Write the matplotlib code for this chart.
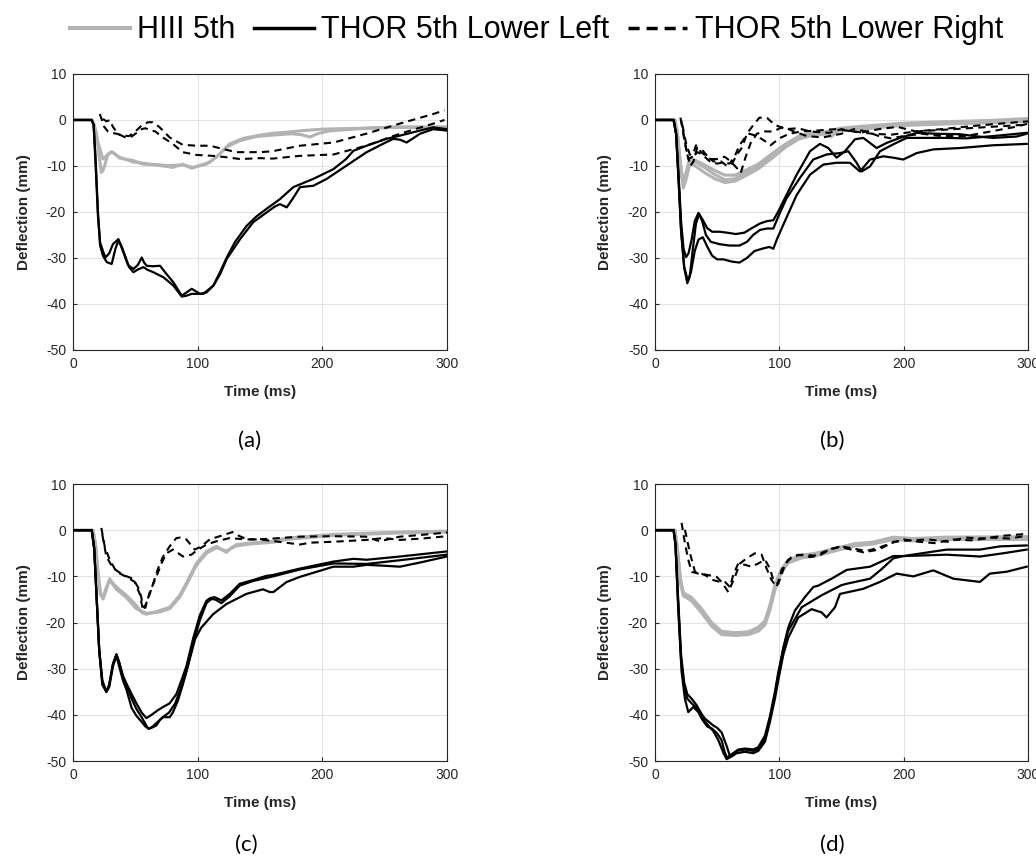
import numpy as np
import matplotlib
matplotlib.use("Agg")
import matplotlib.pyplot as plt
from matplotlib.lines import Line2D

plt.rcParams["font.family"] = ["Liberation Sans", "DejaVu Sans"]
plt.rcParams["axes.unicode_minus"] = False

# ---- data: (time ms, deflection mm) ----
# (a)
a_hiii1 = [(0, 0), (15, 0), (17, -1), (18.7, -2.7), (20.5, -7), (22.7, -11.4), (24, -11), (25.4, -9.9), (28, -7.4),
           (32, -7.0), (37.4, -8.3), (48, -8.8), (56, -9.6), (67, -9.8), (80, -10.3), (88, -9.6), (95, -10.5),
           (101.6, -9.9), (109.6, -9.2), (117.6, -7.4), (125.7, -5.2), (136.4, -4.0), (150, -3.3), (160, -2.9),
           (170, -2.7), (185, -2.3), (200, -2.0), (230, -1.8), (260, -1.5), (300, -1.5)]
a_hiii2 = [(0, 0), (15, 0), (17, -1.5), (20, -4.9), (24, -8.5), (26.7, -7.8), (30.7, -6.9), (37.4, -8.1), (48, -9.1),
           (61.5, -9.6), (75, -9.9), (88, -9.8), (96.3, -10.3), (107, -9.6), (115, -8.1), (123, -5.9), (133.7, -4.5),
           (147, -3.6), (160, -3.3), (175, -3.0), (183, -3.2), (190, -3.7), (196, -3.0), (205, -2.4), (230, -1.9),
           (260, -1.6), (300, -1.7)]
a_ll1 = [(0, 0), (15, 0), (16.5, -1), (18, -8), (20, -20), (21.7, -27.3), (24, -29.5), (27, -30.9), (31, -31.3),
         (34, -28), (36.4, -26.2), (39, -27.5), (41.7, -29.5), (45, -32), (48.4, -33.1), (52, -32.5), (56.4, -32.0),
         (60, -32.6), (64.4, -33.1), (72.5, -34.2), (80.5, -36.0), (87.2, -38.4), (91, -38.2), (95.2, -37.8),
         (104.5, -37.8), (112.6, -36.0), (118, -33.5), (123.3, -30.2), (134, -25.9), (144.6, -22.2), (155.3, -20.1),
         (162, -18.8), (166, -18.3), (171.4, -19.0), (176, -17.2), (182.1, -14.6), (192.8, -14.3), (203.5, -12.8),
         (219.5, -9.9), (235.5, -7.0), (250, -5.0), (257, -4.1), (262.3, -4.3), (267.6, -4.9), (278.3, -3.0),
         (289, -2.0), (299.7, -2.3)]
a_ll2 = [(0, 0), (15, 0), (16.5, -1), (18, -9), (20, -21), (21.7, -26.6), (24, -28.5), (26, -29.9), (29, -29),
         (32, -27), (36.4, -25.9), (40, -28.5), (44, -31.5), (48.4, -32.4), (52, -31.5), (55.1, -29.9), (57, -31),
         (59.1, -31.7), (64, -31.8), (69.8, -31.7), (75, -33.5), (80.5, -35.3), (87.2, -38.2), (91, -37.5),
         (95.2, -36.7), (101.9, -37.8), (107, -37.5), (112.6, -36.0), (118, -33), (123.3, -29.9), (130, -26.5),
         (139.3, -23.0), (147, -21), (155.3, -19.3), (166, -17.2), (176.7, -14.6), (192.8, -12.8), (208.8, -10.7),
         (219, -8.5), (224.9, -6.7), (235.5, -5.6), (251.6, -4.1), (262.3, -3.4), (278.3, -2.3), (289, -1.6),
         (299.7, -2.0)]
a_lr1 = [(21.5, 1.3), (25, -1.5), (28, -2.5), (31, -2.8), (35, -3.0), (40, -3.4), (45, -3.5), (50, -2.5), (55, -1.2),
         (60, -0.5), (64, -0.5), (69.5, -1.6), (77.5, -3.8), (88, -5.4), (99, -5.6), (110, -5.6), (120, -6.3),
         (131, -7.0), (150, -7.0), (160, -6.8), (182, -5.6), (209, -4.9), (235, -3.0), (262, -0.8), (289, 1.3),
         (298, 2.1)]
a_lr2 = [(24, 0.2), (27, -0.3), (29.5, 0.0), (32, -1.5), (36, -3.0), (42, -3.8), (47, -3.6), (51, -2.8), (55, -2.0),
         (58, -1.8), (62, -2.2), (66, -2.5), (72, -3.8), (80, -5.2), (88, -7.0), (99, -7.6), (112, -7.8), (123, -8.1),
         (134, -8.5), (150, -8.3), (160, -8.4), (182, -7.8), (209, -7.5), (235, -5.6), (262, -3.0), (289, -0.8),
         (298, 0.0)]

# (b)
b_hiii1 = [(0, 0), (16, 0), (18, -3), (20.5, -10), (22.8, -14.3), (25, -12), (28.2, -8.6), (33.5, -9.3),
           (40.2, -10.4), (48.3, -11.9), (56.3, -13), (64.3, -12.8), (72.4, -11.5), (83.1, -10.1), (93.8, -7.9),
           (104.6, -5.7), (115.3, -3.9), (126, -3.1), (139.4, -2.8), (142, -3.6), (148.8, -2.0), (164.9, -1.7),
           (199.7, -0.9), (231.9, -0.6), (270, -0.3), (299, 0.1)]
b_hiii2 = [(0, 0), (16, 0), (18, -3), (20.5, -10), (22.8, -14.8), (25, -13), (28.2, -9.3), (33.5, -10.2),
           (40.2, -11.5), (48.3, -12.8), (56.3, -13.6), (64.3, -13.3), (72.4, -12.2), (83.1, -10.6), (93.8, -8.4),
           (104.6, -6.0), (115.3, -4.2), (126, -3.4), (139.4, -3.0), (148.8, -2.3), (164.9, -2.0), (199.7, -1.2),
           (231.9, -0.9), (270, -0.6), (299, -0.3)]
b_hiii3 = [(0, 0), (16, 0), (18, -3), (20.5, -9.5), (22.8, -13.8), (25, -11.5), (28.2, -8.3), (33.5, -8.9),
           (40.2, -9.8), (48.3, -11.0), (56.3, -12.0), (64.3, -12.0), (72.4, -11.0), (83.1, -9.6), (93.8, -7.4),
           (104.6, -5.3), (115.3, -3.6), (126, -2.8), (139.4, -2.5), (148.8, -1.8), (164.9, -1.4), (199.7, -0.7),
           (231.9, -0.4), (270, -0.1), (299, 0.3)]
b_ll1 = [(0, 0), (15, 0), (17, -3), (19, -12), (21, -22), (23, -28), (25, -29.8), (27, -29), (29.5, -26), (32, -22),
         (35, -20.2), (38, -21.5), (42, -23.5), (46, -24.3), (52, -24.3), (58, -24.5), (65, -24.8), (72, -24.5),
         (78, -23.5), (84.5, -22.5), (90, -22), (95.2, -21.8), (99, -20), (103.2, -17.7), (114, -11.9),
         (124.7, -6.8), (132.7, -5.2), (139.4, -6.1), (146.1, -8.2), (152.8, -6.8), (160.9, -4.2), (167.6, -3.9),
         (173, -5.0), (178.3, -6.1), (186.3, -5.0), (197, -3.9), (210.5, -2.8), (226.5, -3.0), (245.3, -3.1),
         (260, -3.6), (272.1, -3.9), (290.9, -3.6), (299, -3.0)]
b_ll2 = [(0, 0), (15, 0), (17, -3), (19, -13), (21, -24), (23.5, -32), (26, -35.5), (28, -34), (30.5, -28),
         (33, -22.5), (35.5, -20.5), (38, -22), (41, -25), (45, -26.5), (52, -27), (60, -27.3), (68, -27.3),
         (74, -26.5), (79, -25), (84.5, -23.9), (90, -23.6), (95.2, -23.6), (100, -20.5), (105.9, -17),
         (116.6, -12.6), (127.3, -8.6), (138.1, -7.5), (148.8, -7.2), (155.5, -6.8), (162.2, -9.3), (166.2, -11.2),
         (173, -10.1), (181, -6.8), (191.7, -5.3), (202.4, -3.9), (218.5, -3.9), (234.6, -3.9), (250.7, -4.0),
         (272.1, -3.5), (299, -2.8)]
b_ll3 = [(0, 0), (15, 0), (17, -3), (19, -13), (21, -24), (23.5, -32), (26.5, -35), (29, -33), (32, -28.5),
         (35, -26), (38.5, -25.5), (42, -27.5), (46, -29.5), (50, -30.3), (55, -30.3), (62, -30.8), (68, -31),
         (74, -30), (80, -28.5), (86, -28), (92, -27.6), (95.2, -28), (98, -26), (103.2, -22.8), (114, -16.3),
         (124.7, -11.9), (135.4, -9.7), (146.1, -9.3), (156.8, -9.3), (164.9, -11.2), (173, -8.6), (183.7, -7.9),
         (191.7, -8.2), (199.7, -8.6), (210.5, -7.2), (223.9, -6.4), (245.3, -6.1), (272.1, -5.5), (299, -5.2)]
b_lr1 = [(20.5, 0.5), (23, -3), (26, -7.5), (28.5, -10), (31, -9), (34, -6), (38, -6.5), (44, -8.5), (50, -8.5),
         (56, -8), (61, -9), (66, -10.5), (69, -11.5), (73, -8), (77, -5), (82, -3), (88, -2.5), (95, -2.5),
         (103, -1.5), (112, -2.5), (122, -3.5), (135, -3.8), (150, -3), (160, -2), (170, -2.5), (180, -3.5),
         (190, -4), (200, -3.5), (215, -3), (230, -3.5), (250, -3.5), (270, -2.5), (290, -1.5), (300, -0.8)]
b_lr2 = [(21, 0), (24, -5), (27, -8.5), (30, -8), (33, -5.5), (37, -7), (42, -8), (47, -9), (53, -9), (58, -10),
         (62, -9.5), (66, -7.5), (70, -6), (74, -3), (78, -1.5), (84, 0.5), (90, 0.5), (96, -1), (105, -2),
         (115, -1.8), (125, -2.5), (140, -2.8), (150, -2), (165, -2.8), (180, -2), (195, -1.5), (210, -2.5),
         (230, -2), (260, -1.2), (300, -0.3)]
b_lr3 = [(22, -1), (25, -5), (28, -7.5), (31, -8), (34, -7), (38, -7.5), (44, -9), (50, -9.5), (55, -9.2),
         (60, -9.5), (64, -8), (68, -5.5), (72, -4), (76, -3), (82, -3.5), (88, -4.5), (93, -5.5), (100, -4),
         (108, -3), (118, -2.5), (130, -2.3), (145, -2), (160, -2.5), (175, -3), (190, -3.2), (210, -2.5),
         (240, -2), (270, -1.5), (300, -1)]

# (c)
c_hiii1 = [(0, 0), (16, 0), (18, -3), (20, -9), (22, -13.5), (24.1, -14.9), (26.5, -13), (29.4, -10.5), (32, -11.5),
           (34.8, -12.3), (42.8, -14.1), (50.8, -16.3), (55, -17.8), (58.8, -18.2), (64, -17.8), (69.5, -17.4),
           (77.5, -16.7), (85.6, -14.1), (92.2, -10.8), (98.9, -7.2), (107, -4.6), (115, -3.5), (118, -4.0),
           (123, -4.8), (127, -3.8), (131, -3.1), (141.7, -2.8), (160.4, -2.4), (171.4, -1.7), (208.8, -0.9),
           (262.3, -0.4), (299.7, -0.2)]
c_hiii2 = [(0, 0), (16, 0), (18, -3), (20, -9.5), (22, -14), (24.1, -14.6), (26.5, -12.5), (29.4, -10.8),
           (34.8, -12.8), (42.8, -14.6), (50.8, -17), (58.8, -18.0), (64, -17.9), (69.5, -17.7), (77.5, -17.0),
           (85.6, -14.5), (92.2, -11.2), (98.9, -7.6), (107, -5), (115, -3.8), (123, -4.5), (131, -3.4),
           (141.7, -3.0), (160.4, -2.6), (171.4, -2.0), (208.8, -1.1), (262.3, -0.6), (299.7, -0.4)]
c_ll1 = [(0, 0), (15, 0), (17, -4), (19, -15), (21, -26), (23.5, -32.5), (26.7, -35), (29, -33.5), (32, -29),
         (34.8, -26.9), (37, -28.5), (40, -31.5), (42.8, -33.2), (47, -35.5), (50.8, -37.5), (55, -39.5),
         (58.8, -40.7), (63, -40), (68, -39), (72.2, -38.3), (77.5, -37.5), (82.9, -35.5), (87, -32.5),
         (90.9, -29.5), (96.3, -23.5), (101.6, -18.5), (107, -15.3), (110, -14.7), (113.6, -14.5), (119, -15.2),
         (125.7, -13.8), (133.7, -11.6), (144.4, -10.8), (155, -9.9), (160.4, -9.7), (182.1, -8.3), (208.8, -6.8),
         (224.9, -6.2), (235.5, -6.4), (262.3, -5.7), (299.7, -4.6)]
c_ll2 = [(0, 0), (15, 0), (17, -4), (19, -15), (21, -26), (23.5, -33), (26.7, -35), (29, -33.5), (32, -29),
         (34.8, -26.9), (37, -28.8), (40, -31.8), (42.8, -33.5), (47, -36.5), (50.8, -38.7), (55, -40.5),
         (60.2, -43), (63, -42.8), (66.8, -42.3), (70, -41), (72.2, -40.5), (77.5, -40.5), (80, -39.5), (84, -37),
         (88, -33.5), (92, -29.5), (96.3, -24.7), (101.6, -19.6), (107, -15.8), (111, -14.9), (114, -15),
         (119, -15.8), (125.7, -14.3), (133.7, -12), (144.4, -11), (160.4, -10), (182.1, -8.5), (208.8, -7.2),
         (235.5, -7.3), (262.3, -6.5), (299.7, -5.3)]
c_ll3 = [(0, 0), (15, 0), (17, -4), (19, -15), (21, -26), (23.5, -33.5), (26.7, -35), (29, -34), (32, -29.5),
         (34.8, -27.2), (37, -29.5), (40, -32.5), (42.8, -34.5), (47, -38.5), (50.8, -40.2), (55, -41.5), (58, -42.5),
         (61, -43), (64, -42.5), (68, -41.5), (72, -40.5), (77, -39.5), (82, -37.5), (86, -34.5), (90, -31.5),
         (94, -27.5), (98, -23.5), (102.9, -21.1), (112.3, -18.2), (123, -16), (139, -13.8), (152.4, -12.8),
         (157.8, -13.4), (160.7, -13.4), (171.4, -11.2), (182.1, -10.1), (208.8, -7.9), (224.9, -7.9),
         (235.5, -7.5), (250, -7.7), (262.3, -7.9), (280, -6.9), (299.7, -5.7)]
c_lr1 = [(22.7, 0.5), (25.4, -3.5), (29.4, -6.4), (34.8, -9.0), (42.8, -10.1), (49.5, -11.2), (53.5, -13.8),
         (56.1, -17.4), (60.2, -14.9), (64.2, -11.6), (68.2, -8.3), (72.2, -5.7), (77.5, -3.5), (82.9, -1.7),
         (86, -1.6), (90.9, -2.0), (97.6, -4.2), (102.9, -3.5), (109.6, -2.0), (117.6, -1.3), (125.7, -0.6),
         (128, -0.4), (133.7, -1.3), (140, -2.0), (150, -2.0), (165, -2.5), (182.1, -3.1), (190, -2.7),
         (208.8, -2.5), (235.5, -2.1), (248.8, -1.7), (262.3, -2.1), (280, -1.8), (299.7, -1.3)]
c_lr2 = [(23.5, -1.0), (26.7, -5.7), (32.1, -8.2), (40.1, -9.7), (48.1, -10.5), (53.5, -13), (56.1, -16.3),
         (58, -16.8), (61.5, -13.4), (66.8, -10.1), (70.9, -7.2), (74.9, -5.0), (80.2, -4.2), (88.2, -5.7),
         (94.9, -5.3), (100.3, -4.2), (107, -3.1), (115, -2.4), (125.7, -1.7), (139, -2.0), (155, -1.9),
         (182, -1.4), (208, -1.3), (235, -1.4), (246, -2.4), (262, -1.4), (280, -1.0), (300, -0.5)]

# (d)
d_hiii1 = [(0, 0), (16, 0), (18, -4), (20.5, -11), (22.8, -13.8), (29.5, -14.9), (37.5, -17.4), (45.6, -20.4),
           (53.6, -22.2), (64.3, -22.5), (75.1, -22.2), (83.1, -21.4), (88.5, -20), (92.5, -16.7), (96.5, -12.3),
           (101.9, -8.6), (107.2, -6.8), (118, -5.7), (128.7, -5.3), (139.4, -4.6), (150.1, -3.9), (160.9, -3.1),
           (167.5, -3.1), (191.7, -1.7), (207.8, -2.0), (234.6, -1.7), (299, -1.7)]
d_hiii2 = [(0, 0), (16, 0), (18, -4), (20.5, -11.5), (22.8, -14.2), (29.5, -15.3), (37.5, -17.9), (45.6, -20.8),
           (53.6, -22.6), (64.3, -22.8), (75.1, -22.6), (83.1, -21.9), (88.5, -20.5), (92.5, -17.3), (96.5, -12.9),
           (101.9, -9.0), (107.2, -7.1), (118, -6.0), (128.7, -5.6), (139.4, -4.9), (150.1, -4.1), (160.9, -3.4),
           (175, -3.0), (191.7, -2.0), (207.8, -2.3), (234.6, -2.0), (299, -2.0)]
d_hiii3 = [(0, 0), (16, 0), (18, -4), (20.5, -10.5), (22.8, -13.5), (29.5, -14.6), (37.5, -17.0), (45.6, -20.0),
           (53.6, -21.9), (64.3, -22.2), (75.1, -22.0), (83.1, -21.0), (88.5, -19.6), (92.5, -16.2), (96.5, -11.8),
           (101.9, -8.3), (107.2, -6.5), (118, -5.4), (128.7, -5.0), (139.4, -4.3), (150.1, -3.6), (160.9, -2.9),
           (175, -2.6), (191.7, -1.5), (207.8, -1.8), (234.6, -1.5), (299, -1.4)]
d_ll1 = [(0, 0), (15, 0), (16.5, -3), (18.8, -17.4), (21.4, -30.6), (24.1, -36.5), (26.8, -39.4), (30.8, -38.3),
         (34.9, -39.4), (38, -41), (42, -42.5), (46, -43), (50, -44), (53.6, -45.5), (56, -48), (58, -49.3),
         (61.7, -48.5), (65.7, -47.8), (72.4, -47.5), (79.1, -47.8), (83.1, -47.4), (88.5, -45.2), (92.5, -40.8),
         (96.5, -35.7), (99.2, -31.3), (103.2, -25.5), (107.2, -21.1), (112.6, -17.4), (120.6, -14.5),
         (127.4, -12.3), (131.4, -12), (142.1, -10.5), (154.2, -8.6), (173, -7.9), (191.7, -5.6), (199.7, -5.6),
         (234.6, -4.2), (261.4, -4.2), (277.5, -3.5), (299, -3.3)]
d_ll2 = [(0, 0), (15, 0), (16.5, -3), (18.5, -14), (21, -27), (23.5, -33), (26, -35.5), (29.5, -36.5), (33.5, -37.9),
         (37.5, -39.8), (40.2, -40.8), (46.9, -42.3), (50, -42.8), (53.6, -43.8), (57.6, -46.7), (60.3, -48.9),
         (63, -48.5), (67, -47.5), (72.4, -47.3), (79.1, -47.5), (83.1, -47), (88.5, -44.5), (92.5, -40.3),
         (96.5, -35), (99.2, -30.8), (103.2, -25.8), (107.2, -21.8), (118, -16.7), (134, -14.1), (150, -11.9),
         (154.2, -11.6), (173, -10.5), (182, -8.5), (191.7, -6.1), (199.7, -5.6), (234.6, -5.3), (261.4, -5.7),
         (280, -5.0), (299, -4.2)]
d_ll3 = [(0, 0), (15, 0), (16.5, -3), (18.5, -15), (21, -28), (23.5, -34), (26, -36.5), (29.5, -37.5), (33.5, -38.5),
         (37.5, -40.5), (42.9, -42.3), (46.9, -43.5), (51, -45.5), (55, -48.2), (57.6, -49.6), (61.7, -49),
         (65.7, -48.3), (72.4, -48), (79.1, -48.3), (83.1, -47.8), (88.5, -45.8), (92.5, -41.5), (96.5, -36.5),
         (99.2, -32.5), (103.2, -27), (107.2, -23.3), (115.3, -18.9), (126, -17.1), (134, -17.8), (138, -18.9),
         (144.8, -16.7), (148.8, -13.8), (167.5, -12.7), (181, -11.2), (194.4, -9.4), (207.8, -10.0),
         (223.9, -8.7), (240, -10.5), (261.4, -11.2), (269.4, -9.4), (282.8, -9.0), (299, -7.9)]
d_lr1 = [(21.4, 1.6), (24.1, -2.8), (26.8, -6.4), (29.5, -9.0), (34.9, -9.4), (42.9, -9.7), (49.6, -10.1),
         (53.6, -11.2), (59, -13.4), (64.3, -10.1), (68.4, -7.2), (73.7, -6.1), (80.4, -5), (85.8, -5.3),
         (89.8, -8.3), (93.8, -10.8), (97.9, -12.3), (101.9, -8.6), (107.2, -6.4), (115.3, -5.3), (125, -5.8),
         (132, -5.5), (142, -4.0), (150, -3.5), (160, -4.0), (170, -4.5), (180, -3.8), (190, -2.8), (200, -2.0),
         (212, -2.5), (225, -2.8), (240, -2.0), (255, -2.2), (270, -1.6), (285, -1.8), (299, -1.2)]
d_lr2 = [(24.1, 0.1), (28.2, -5), (32.2, -9.0), (40.2, -9.7), (46.9, -10.8), (52.3, -11.2), (56.3, -11.2),
         (60.3, -12.3), (63, -9.7), (67, -7.2), (72.4, -7.5), (77.7, -7.9), (83.1, -7.2), (88.5, -6.4), (92.5, -8.3),
         (95.2, -10.8), (99.2, -11.6), (104.6, -7.5), (110, -5.7), (118, -5.3), (128, -5.5), (138, -4.5),
         (148, -3.6), (158, -4.2), (168, -4.8), (180, -4.2), (192, -2.5), (205, -2.2), (220, -2.0), (235, -2.5),
         (250, -1.6), (265, -1.8), (280, -1.2), (299, -0.8)]

panels = {
    "(a)": ([a_hiii1, a_hiii2], [a_ll1, a_ll2], [a_lr1, a_lr2]),
    "(b)": ([b_hiii1, b_hiii2, b_hiii3], [b_ll1, b_ll2, b_ll3], [b_lr1, b_lr2, b_lr3]),
    "(c)": ([c_hiii1, c_hiii2], [c_ll1, c_ll2, c_ll3], [c_lr1, c_lr2]),
    "(d)": ([d_hiii1, d_hiii2, d_hiii3], [d_ll1, d_ll2, d_ll3], [d_lr1, d_lr2]),
}

grey = "#b3b3b3"
ink = "#262626"
dash = (0, (3.5, 2.5))

fig = plt.figure(figsize=(10.36, 8.65), dpi=100)
positions = {
    "(a)": [0.0705, 0.5954, 0.3610, 0.3191],
    "(b)": [0.6322, 0.5954, 0.3600, 0.3191],
    "(c)": [0.0705, 0.1202, 0.3610, 0.3202],
    "(d)": [0.6322, 0.1202, 0.3600, 0.3202],
}
label_xy = {"(a)": (0.2413, 0.4902), "(b)": (0.8031, 0.4902),
            "(c)": (0.2375, 0.0231), "(d)": (0.8031, 0.0231)}

for name, (hiii, ll, lr) in panels.items():
    ax = fig.add_axes(positions[name])
    for tr in hiii:
        t, d = np.array(tr).T
        ax.plot(t, d, color=grey, lw=2.2, zorder=2)
    for tr in ll:
        t, d = np.array(tr).T
        ax.plot(t, d, color="black", lw=1.6, zorder=3)
    for tr in lr:
        t, d = np.array(tr).T
        ax.plot(t, d, color="black", lw=1.5, linestyle=dash, zorder=4)

    ax.set_xlim(0, 300)
    ax.set_ylim(-50, 10)
    ax.set_xticks([0, 100, 200, 300])
    ax.set_yticks([10, 0, -10, -20, -30, -40, -50])
    ax.grid(True, color="#e3e3e3", lw=0.8)
    ax.set_axisbelow(True)
    ax.tick_params(direction="in", length=3, width=0.8, labelsize=10, colors=ink, pad=5)
    for sp in ax.spines.values():
        sp.set_color(ink)
        sp.set_linewidth(0.8)
    ax.set_xlabel("Time (ms)", fontsize=11, fontweight="bold", color=ink, labelpad=10)
    ax.set_ylabel("Deflection (mm)", fontsize=11, fontweight="bold", color=ink, labelpad=11)

    lx, ly = label_xy[name]
    fig.text(lx, ly, name, ha="center", va="center", fontsize=16,
             family=["Lato", "DejaVu Sans"])

handles = [
    Line2D([], [], color=grey, lw=3),
    Line2D([], [], color="black", lw=2.5),
    Line2D([], [], color="black", lw=2.5, linestyle=(0, (3.2, 2.0))),
]
fig.legend(handles, ["HIII 5th", "THOR 5th Lower Left", "THOR 5th Lower Right"],
           loc="upper center", bbox_to_anchor=(0.518, 1.014), ncol=3, frameon=False,
           fontsize=22, handlelength=1.95, handletextpad=0.25, columnspacing=0.6)

fig.savefig("out.png", dpi=100)
